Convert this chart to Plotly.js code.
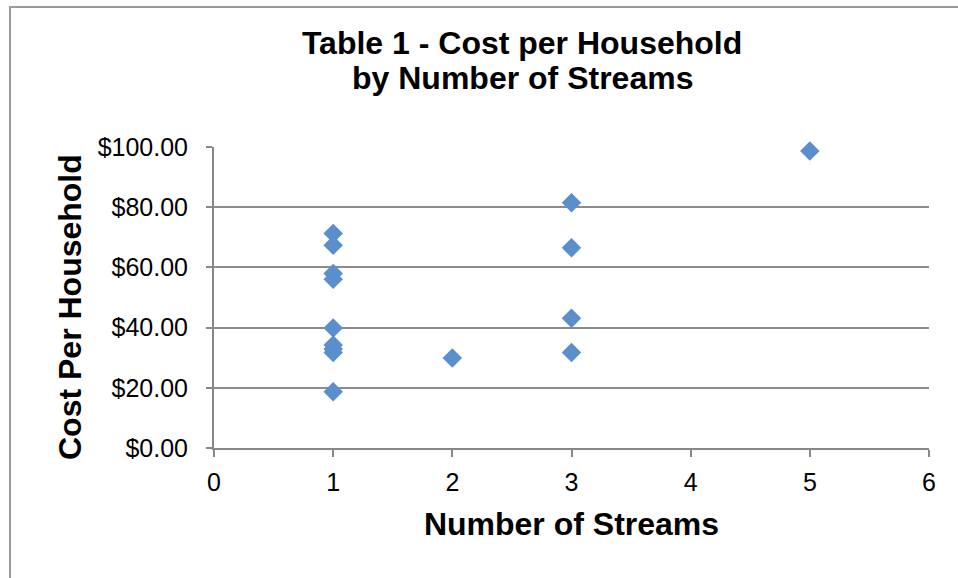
<!DOCTYPE html>
<html>
<head>
<meta charset="utf-8">
<script src="https://cdn.plot.ly/plotly-3.0.1.min.js"></script>
<style>
  html, body { margin: 0; padding: 0; background: #ffffff; overflow: hidden; }
  #frame { position: absolute; left: 9px; top: 6px; width: 1000px; height: 620px;
           border-left: 2px solid #9a9a9a; border-top: 2px solid #9a9a9a; }
  #chart { position: absolute; left: 0; top: 0; width: 958px; height: 578px; }
</style>
</head>
<body>
<div id="frame"></div>
<div id="chart"></div>
<script>
// Number of streams per household group and cost per household (USD)
const streams = [1, 1, 1, 1, 1, 1, 1, 1, 1, 2, 3, 3, 3, 3, 5];
const costPerHousehold = [71.3, 67.4, 58.0, 56.1, 39.9, 34.2, 32.9, 31.7, 18.7, 29.9, 81.5, 66.5, 43.1, 31.7, 98.7];
const yTickValues = [0, 20, 40, 60, 80, 100];
const yTickLabels = ["$0.00", "$20.00", "$40.00", "$60.00", "$80.00", "$100.00"];
const xTickValues = [0, 1, 2, 3, 4, 5, 6];
const titleLine1 = 'Table 1 - Cost per Household';
const titleLine2 = 'by Number of Streams';
const xTitle = 'Number of Streams';
const yTitle = 'Cost Per Household';

const trace = {
  type: 'scatter',
  mode: 'markers',
  x: streams,
  y: costPerHousehold,
  cliponaxis: false,
  marker: { symbol: 'diamond', size: 15, color: '#5b8fcb', line: { width: 0 } },
  hoverinfo: 'x+y'
};

const W = 958, H = 578;
const M = { l: 214, r: 29, t: 147, b: 130 };
const plotW = W - M.l - M.r, plotH = H - M.t - M.b;
const pxX = px => (px - M.l) / plotW;
const pxY = py => (H - M.b - py) / plotH;

const font = 'Arial, "Liberation Sans", Helvetica, sans-serif';
const layout = {
  width: W,
  height: H,
  paper_bgcolor: 'rgba(0,0,0,0)',
  plot_bgcolor: 'rgba(0,0,0,0)',
  margin: M,
  showlegend: false,
  font: { family: font, color: '#000000' },
  title: {
    text: '<b>' + titleLine1 + '</b>',
    font: { family: font, size: 32, color: '#000000' },
    x: 0.545, xref: 'container', xanchor: 'center',
    y: 1 - 43 / H, yref: 'container', yanchor: 'middle'
  },
  annotations: [
    {
      text: '<b>' + titleLine2 + '</b>',
      xref: 'paper', yref: 'paper',
      x: pxX(522), y: pxY(78), xanchor: 'center', yanchor: 'middle',
      showarrow: false,
      font: { family: font, size: 32, color: '#000000' }
    },
    {
      text: '<b>' + yTitle + '</b>',
      xref: 'paper', yref: 'paper',
      x: pxX(70), y: pxY(307), xanchor: 'center', yanchor: 'middle',
      textangle: -90,
      showarrow: false,
      font: { family: font, size: 32, color: '#000000' }
    }
  ],
  xaxis: {
    range: [0, 6],
    tickvals: xTickValues,
    ticktext: xTickValues.map(String),
    showgrid: false,
    zeroline: false,
    showline: true,
    linecolor: '#888888',
    linewidth: 2,
    ticks: 'outside',
    ticklen: 7,
    tickwidth: 2,
    tickcolor: '#888888',
    ticklabelstandoff: 4,
    tickfont: { family: font, size: 25, color: '#000000' },
    title: { text: '<b>' + xTitle + '</b>', font: { family: font, size: 32, color: '#000000' }, standoff: 18 },
    fixedrange: true
  },
  yaxis: {
    range: [0, 100],
    tickvals: yTickValues,
    ticktext: yTickLabels,
    showgrid: true,
    gridcolor: '#8c8c8c',
    gridwidth: 2,
    zeroline: false,
    showline: true,
    linecolor: '#888888',
    linewidth: 2,
    ticks: 'outside',
    ticklen: 6,
    tickwidth: 2,
    tickcolor: '#888888',
    ticklabelstandoff: 13,
    tickfont: { family: font, size: 25, color: '#000000' },
    fixedrange: true
  }
};

Plotly.newPlot('chart', [trace], layout, { displayModeBar: false, staticPlot: true });
</script>
</body>
</html>
